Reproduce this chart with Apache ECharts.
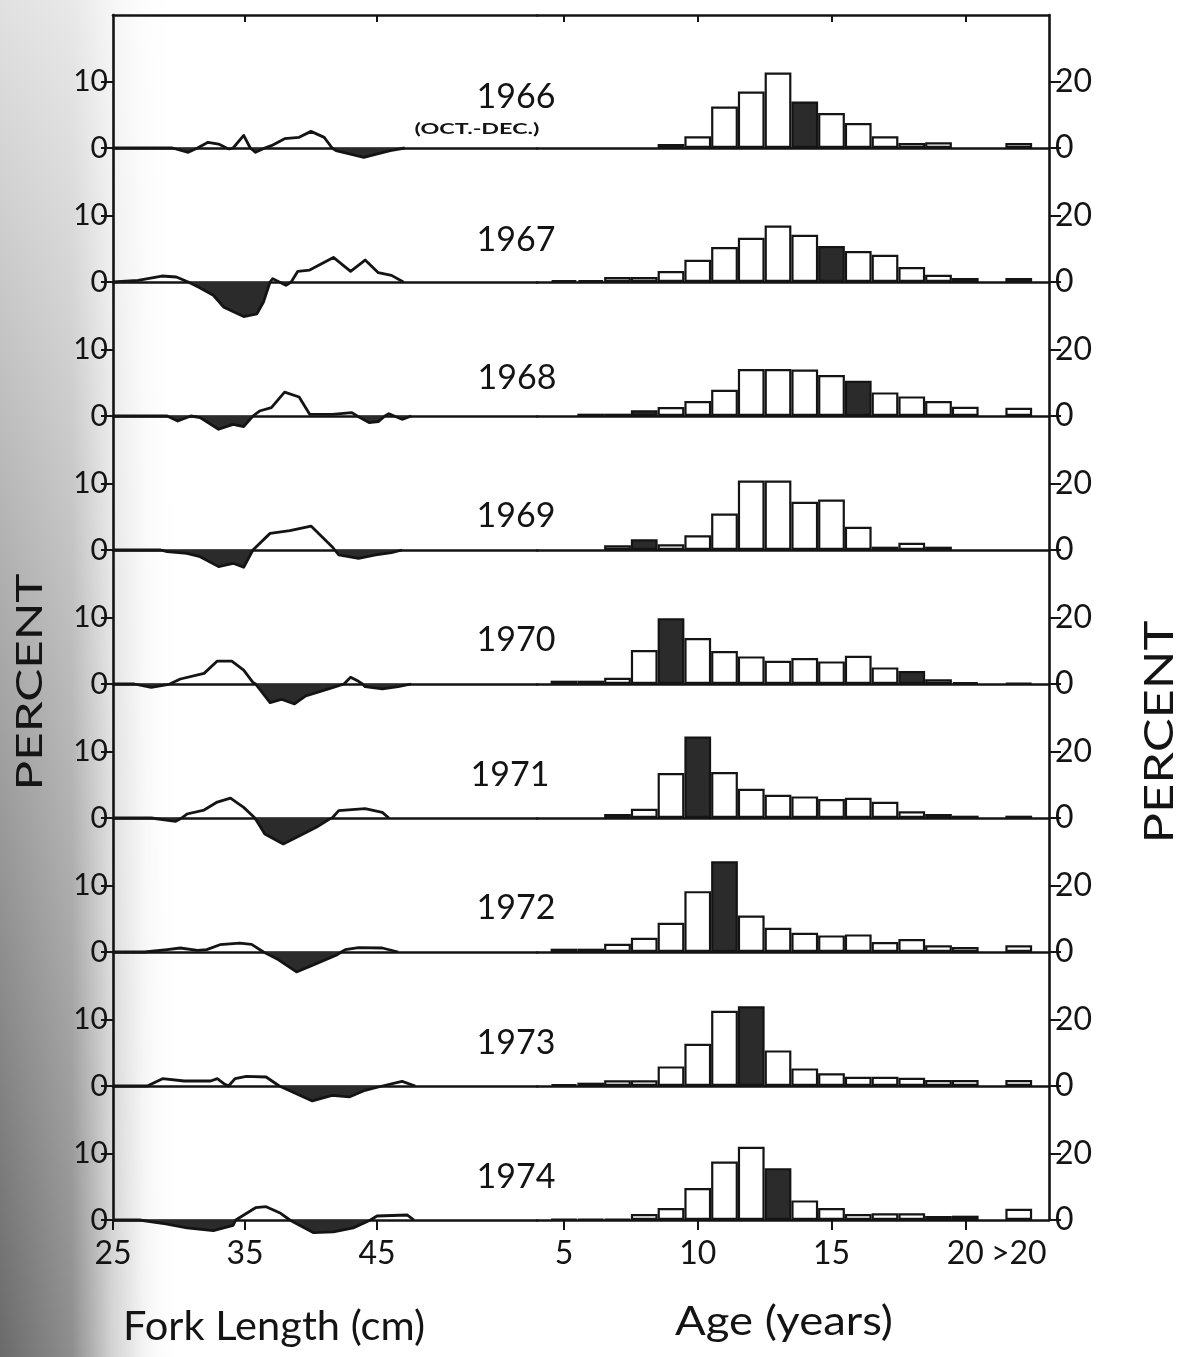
<!DOCTYPE html>
<html>
<head>
<meta charset="utf-8">
<title>Fork length and age composition 1966-1974</title>
<script src="https://cdn.jsdelivr.net/npm/echarts@6/dist/echarts.min.js"></script>
<style>
  html, body { margin: 0; padding: 0; background: #fff; }
  #chart { width: 1180px; height: 1357px; }
</style>
</head>
<body>
<div id="chart"></div>
<script>
// panels, top to bottom
const years = ["1966", "1967", "1968", "1969", "1970", "1971", "1972", "1973", "1974"];

// age classes of the histograms, 22 is where the ">20" class sits
const ages = [5, 6, 7, 8, 9, 10, 11, 12, 13, 14, 15, 16, 17, 18, 19, 20, 22];
const ageTicks = [5, 10, 15, 20];
const ageLabels = [5, 10, 15, 20, 22];
const lengthTicks = [25, 35, 45];
const leftTicks = [0, 10];
const rightTicks = [0, 20];

// percent by age (same order as ages), null = empty class
const age1966 = [null, null, null, null, 1.2, 3.5, 12.5, 17, 22.7, 14, 10.5, 7.5, 3.5, 1.5, 1.7, null, 1.5];
const age1967 = [0.6, 0.6, 1.5, 1.5, 3.3, 6.7, 10.5, 13.3, 17, 14.2, 10.8, 9.3, 8.2, 4.5, 2.2, 1.2, 1.2];
const age1968 = [null, 0.7, 0.7, 1.7, 2.7, 4.5, 7.9, 14.1, 14.1, 14, 12.3, 10.6, 7.1, 5.9, 4.5, 2.8, 2.5];
const age1969 = [null, null, 1.4, 3.2, 1.7, 4.4, 11, 20.9, 20.9, 14.5, 15.2, 7, 1, 2.2, 1, null, null];
const age1970 = [1, 1, 1.9, 10.2, 19.8, 13.8, 9.9, 8.3, 7, 7.8, 6.8, 8.5, 5, 3.9, 1.4, 0.5, 0.3];
const age1971 = [null, null, 1.2, 2.8, 13.5, 24.5, 13.8, 8.8, 7, 6.5, 5.7, 6.1, 4.9, 2, 1.2, 0.7, 0.7];
const age1972 = [1, 1, 2.5, 4.3, 8.8, 18.3, 27.3, 11, 7.3, 5.8, 5, 5.3, 3, 3.9, 2, 1.5, 2];
const age1973 = [0.5, 1, 1.7, 1.7, 5.9, 12.7, 22.6, 24, 10.7, 5.3, 3.8, 2.8, 2.8, 2.5, 1.8, 1.8, 1.8];
const age1974 = [0.3, 0.3, 0.3, 1.8, 3.6, 9.6, 17.6, 22, 15.6, 5.9, 3.6, 1.8, 2, 2, 1.2, 1.3, 3.4];

// shaded age classes in each year
const darkAges = [[9, 14], [15], [8, 16], [8], [9, 18], [10], [11], [12], [13]];

// fork length curves, [cm, percent]
const len1966 = [[25, 0], [29.5, 0], [30.7, -0.65], [31.4, 0], [32.2, 0.85], [33, 0.6], [33.6, 0], [33.8, -0.15], [34.1, 0], [34.9, 1.9], [35.4, 0], [35.8, -0.65], [36.5, 0], [37, 0.35], [38, 1.4], [39.1, 1.6], [40, 2.5], [41, 1.6], [41.6, 0], [41.9, -0.4], [44, -1.4], [46, -0.4], [47.1, 0]];
const len1967 = [[25, 0], [26.9, 0.25], [28.7, 0.9], [29.8, 0.75], [30.7, 0], [31.5, -0.8], [32.6, -2], [33.4, -3.8], [34.9, -5.2], [35.9, -4.8], [36.4, -3], [36.9, 0], [37.1, 0.5], [37.6, 0], [38.1, -0.5], [38.5, 0], [39, 1.6], [39.9, 1.8], [41.7, 3.7], [43, 1.6], [44.1, 3.3], [45.1, 1.4], [46.1, 1], [47, 0]];
const len1968 = [[25, 0], [29.1, 0], [29.9, -0.75], [30.9, 0], [31.6, -0.25], [33, -2], [34.1, -1.25], [34.9, -1.6], [35.6, 0], [36.1, 0.75], [37, 1.25], [38, 3.6], [39.1, 2.85], [39.9, 0.25], [41.6, 0.25], [43.1, 0.5], [43.5, 0], [44.4, -1], [45.1, -0.85], [45.6, 0], [45.9, 0.35], [46.3, 0], [46.9, -0.5], [47.6, 0]];
const len1969 = [[25, 0], [28.6, 0], [29.1, -0.25], [30.6, -0.5], [31.6, -1], [33, -2.5], [34.1, -2], [34.9, -2.6], [35.6, 0], [36.9, 2.5], [38.4, 2.9], [40, 3.6], [41.6, 0.5], [41.8, 0], [42.1, -0.75], [43.6, -1.25], [44.9, -0.75], [46.1, -0.4], [46.9, 0]];
const len1970 = [[25, 0], [26.6, 0], [27.9, -0.5], [29.1, -0.1], [29.3, 0], [30.1, 0.75], [31.9, 1.6], [32.9, 3.45], [34, 3.45], [34.9, 2.1], [35.6, 0.25], [35.8, 0], [36.9, -2.8], [37.75, -2.3], [38.75, -3], [39.6, -1.8], [40.9, -1], [42.1, -0.25], [42.5, 0], [43, 1], [43.6, 0.4], [43.9, 0], [44.1, -0.4], [45.4, -0.75], [46.6, -0.4], [47.6, 0]];
const len1971 = [[25, 0], [27.9, 0], [29.75, -0.5], [30.2, 0], [30.6, 0.6], [31.9, 1.2], [32.9, 2.4], [33.9, 3], [34.9, 1.6], [35.75, 0], [36.5, -2.4], [37.9, -3.9], [39.1, -2.7], [40.4, -1.4], [41.4, -0.15], [41.6, 0], [42.1, 1.1], [44.1, 1.4], [45.4, 0.85], [45.9, 0]];
const len1972 = [[25, 0], [27.4, 0], [29.1, 0.35], [30.1, 0.6], [31.4, 0.25], [32.1, 0.35], [33.1, 1.1], [34.6, 1.35], [35.5, 1.15], [36.4, 0], [37.4, -1], [38.9, -3], [40.4, -1.75], [41.9, -0.5], [42.3, 0], [42.6, 0.35], [43.6, 0.65], [45.4, 0.6], [46.6, 0]];
const len1973 = [[25, 0], [27.6, 0], [28.75, 1.1], [30.4, 0.75], [32.4, 0.75], [32.9, 1.1], [33.4, 0.35], [33.75, 0], [34.25, 1.1], [35.1, 1.45], [36.6, 1.35], [37.6, 0], [38.6, -0.9], [40.1, -2.25], [41.6, -1.4], [42.9, -1.65], [44.1, -0.65], [45.4, 0], [46.9, 0.7], [47.9, 0]];
const len1974 = [[25, 0], [27, 0], [29, -0.6], [30.6, -1.2], [32.6, -1.6], [34.1, -0.8], [34.3, 0], [34.4, 0.3], [35.8, 1.85], [36.6, 2], [37.7, 1], [38.4, 0], [38.7, -0.35], [40.2, -1.9], [41.7, -1.8], [43.2, -1.2], [44.5, 0], [45, 0.6], [47.3, 0.75], [47.8, 0]];

const ageData = [age1966, age1967, age1968, age1969, age1970, age1971, age1972, age1973, age1974];
const lenData = [len1966, len1967, len1968, len1969, len1970, len1971, len1972, len1973, len1974];

/* layout */
const FRAME_L = 113, FRAME_R = 1049;
const BASE0 = 148, STEP = 134, PANEL_H = 133;
const CM_PX = 13.2, YEAR_PX = 26.75;
const SPLIT = 564 - YEAR_PX;               // x of age 4 on the right scale
const LEN_MAX = 25 + (SPLIT - FRAME_L) / CM_PX;
const AGE_MAX = 4 + (FRAME_R - SPLIT) / YEAR_PX;
const yearLabelX = [516, 516, 517, 516, 516, 510, 516, 516, 516];
const yearLabelY = [97, 240, 378, 516, 640, 775, 908, 1043, 1177];

const INK = "#141414";
const SHADE = "#2b2b2b";
const FONT = "Lato, 'DejaVu Sans', sans-serif";

function stretchTo(text, size, weight, width) {
    const ctx = document.createElement("canvas").getContext("2d");
    ctx.font = `${weight} ${size}px Lato`;
    return width / ctx.measureText(text).width;
}

const grids = [], xAxes = [], yAxes = [], series = [];

years.forEach((yr, i) => {
    const top = BASE0 + i * STEP - PANEL_H;
    const last = i === years.length - 1;
    const gL = grids.length;
    grids.push({ left: FRAME_L, top: top, width: SPLIT - FRAME_L, height: PANEL_H, containLabel: false, outerBoundsMode: "none" });
    grids.push({ left: SPLIT, top: top, width: FRAME_R - SPLIT, height: PANEL_H, containLabel: false, outerBoundsMode: "none" });

    const line = { show: true, onZero: false, lineStyle: { color: INK, width: 2.6 } };
    const label = { show: last, color: INK, fontSize: 32, fontFamily: FONT, margin: 18 };

    // bottom axes (zero line)
    const xL = xAxes.length;
    xAxes.push({
        type: "value", gridIndex: gL, position: "bottom", min: 25, max: LEN_MAX,
        axisLine: line, splitLine: { show: false },
        axisTick: { show: last, customValues: lengthTicks, length: 10, lineStyle: { color: INK, width: 2 } },
        axisLabel: Object.assign({ customValues: lengthTicks }, label)
    });
    const xR = xAxes.length;
    xAxes.push({
        type: "value", gridIndex: gL + 1, position: "bottom", min: 4, max: AGE_MAX,
        axisLine: line, splitLine: { show: false },
        axisTick: { show: last, customValues: ageTicks, length: 10, lineStyle: { color: INK, width: 2 } },
        axisLabel: Object.assign({ customValues: ageLabels, formatter: v => (v === 22 ? ">20" : String(v)) }, label)
    });

    // top edge of the frame
    if (i === 0) {
        xAxes.push({
            type: "value", gridIndex: gL, position: "top", min: 25, max: LEN_MAX,
            axisLine: line, splitLine: { show: false }, axisLabel: { show: false },
            axisTick: { show: true, inside: true, customValues: lengthTicks.slice(1), length: 7, lineStyle: { color: INK, width: 2 } }
        });
        xAxes.push({
            type: "value", gridIndex: gL + 1, position: "top", min: 4, max: AGE_MAX,
            axisLine: line, splitLine: { show: false }, axisLabel: { show: false },
            axisTick: { show: true, inside: true, customValues: ageTicks, length: 7, lineStyle: { color: INK, width: 2 } }
        });
    }

    const yL = yAxes.length;
    yAxes.push({
        type: "value", gridIndex: gL, position: "left", min: 0, max: 20,
        axisLine: line, splitLine: { show: false },
        axisTick: { show: true, customValues: leftTicks, length: 12, lineStyle: { color: INK, width: 2 } },
        axisLabel: { show: true, customValues: leftTicks, color: INK, fontSize: 30, fontFamily: FONT, margin: 5 }
    });
    const yR = yAxes.length;
    yAxes.push({
        type: "value", gridIndex: gL + 1, position: "right", min: 0, max: 40,
        axisLine: line, splitLine: { show: false },
        axisTick: { show: true, customValues: rightTicks, length: 12, lineStyle: { color: INK, width: 2 } },
        axisLabel: { show: true, customValues: rightTicks, color: INK, fontSize: 32, fontFamily: FONT, margin: 6 }
    });

    // fork length: dark below zero, outline on top
    series.push({
        type: "line", xAxisIndex: xL, yAxisIndex: yL, clip: false, symbol: "none", silent: true,
        data: lenData[i].map(p => [p[0], Math.min(p[1], 0)]),
        lineStyle: { width: 0 }, areaStyle: { color: SHADE, opacity: 1 }, z: 3
    });
    series.push({
        type: "line", xAxisIndex: xL, yAxisIndex: yL, clip: false, symbol: "none", silent: true,
        data: lenData[i],
        lineStyle: { color: INK, width: 2.8, join: "round" }, z: 4
    });

    // age histogram
    series.push({
        type: "bar", xAxisIndex: xR, yAxisIndex: yR, barWidth: YEAR_PX, silent: true,
        data: ages.map((a, k) => [a, ageData[i][k]]).filter(d => d[1] != null).map(d => ({
            value: d,
            itemStyle: darkAges[i].includes(d[0]) ? { color: SHADE } : {}
        })),
        itemStyle: { color: "#fff", borderColor: INK, borderWidth: 2.2 }, z: 3
    });
});

/* texts and scan shading */
const graphics = [
    {
        type: "rect", z: -10, silent: true, shape: { x: 0, y: 0, width: 180, height: 1357 },
        style: { fill: new echarts.graphic.LinearGradient(0, 0, 1, 0, [
            { offset: 0, color: "#6a6a6a" }, { offset: 0.4, color: "#8e8e8e" },
            { offset: 0.62, color: "#d2d2d2" }, { offset: 0.8, color: "#f4f4f4" }, { offset: 1, color: "rgba(255,255,255,0)" }
        ]) }
    },
    {
        type: "rect", z: -9, silent: true, shape: { x: 0, y: 0, width: 180, height: 1357 },
        style: { fill: new echarts.graphic.LinearGradient(0, 0, 0, 1, [
            { offset: 0, color: "rgba(255,255,255,0.8)" }, { offset: 1, color: "rgba(255,255,255,0)" }
        ]) }
    }
];

years.forEach((yr, i) => {
    graphics.push({
        type: "text", x: yearLabelX[i], y: yearLabelY[i], z: 10, silent: true,
        style: { text: yr, fontSize: 34, fontFamily: FONT, fill: INK, align: "center", verticalAlign: "middle" }
    });
});

function bigText(text, x, y, size, width, rotate, weight) {
    return {
        type: "text", x: x, y: y, z: 10, silent: true,
        rotation: rotate ? Math.PI / 2 : 0,
        scaleX: stretchTo(text, size, weight || "normal", width),
        style: { text: text, fontSize: size, fontWeight: weight || "normal", fontFamily: FONT, fill: INK, align: "center", verticalAlign: "middle" }
    };
}

graphics.push(bigText("(OCT.-DEC.)", 477, 129, 15, 125, false, "bold"));
graphics.push(bigText("PERCENT", 30, 682, 36, 217, true));
graphics.push(bigText("PERCENT", 1160, 732, 40, 223, true));
graphics.push(bigText("Fork Length (cm)", 274, 1327, 40, 302, false));
graphics.push(bigText("Age (years)", 784, 1322, 40, 218, false));

const chart = echarts.init(document.getElementById("chart"), null, { renderer: "canvas" });
chart.setOption({
    backgroundColor: "#fff",
    animation: false,
    grid: grids,
    xAxis: xAxes,
    yAxis: yAxes,
    series: series,
    graphic: graphics
});
</script>
</body>
</html>
